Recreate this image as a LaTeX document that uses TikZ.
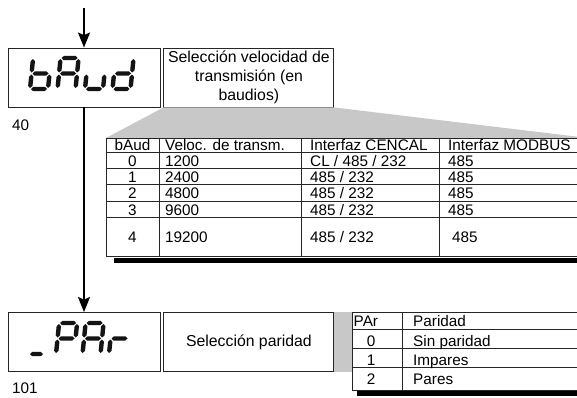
\documentclass[tikz,border=0pt]{standalone}
\usepackage{fontspec}
\setmainfont{Liberation Sans}
\usetikzlibrary{arrows.meta, positioning}
\definecolor{fanc}{RGB}{200,200,200}
\definecolor{segc}{RGB}{20,20,20}
\newcommand{\tabfont}{\fontsize{15.3}{18}\selectfont}
\newcommand{\descfont}{\fontsize{15.8}{19}\selectfont}
% one segment of a 7-segment digit (hexagon)
\newcommand{\hseg}[3]{\fill[segc] (#1,#2) -- ++(2.2,-2.2) -- ++(#3-4.4,0) -- ++(2.2,2.2)
  -- ++(-2.2,2.2) -- ++(4.4-#3,0) -- cycle;}
\newcommand{\vseg}[3]{\fill[segc] (#1,#2) -- ++(2.2,2.2) -- ++(0,#3-4.4) -- ++(-2.2,2.2)
  -- ++(-2.2,-2.2) -- ++(0,4.4-#3) -- cycle;}
\newcommand{\segchar}[3]{%
  \begin{scope}[shift={(#1,#2)}, xslant=0.1]
    \foreach \sg in {#3} {%
      \if a\sg \hseg{1}{-31}{16}\fi
      \if b\sg \vseg{18}{-30}{13.5}\fi
      \if c\sg \vseg{18}{-14.5}{13.5}\fi
      \if d\sg \hseg{1}{0}{16}\fi
      \if e\sg \vseg{0}{-14.5}{13.5}\fi
      \if f\sg \vseg{0}{-30}{13.5}\fi
      \if g\sg \hseg{1}{-15.5}{16}\fi
    }
  \end{scope}}
\tikzset{
  dispbox/.style={draw=black!85, line width=0.9pt, minimum width=152pt,
                  minimum height=59pt, inner sep=0pt},
  descbox/.style={draw=black!85, line width=0.9pt, minimum width=170pt,
                  minimum height=59pt, inner sep=0pt, align=center, font=\descfont},
  cell/.style={inner sep=0pt, anchor=base west, font=\tabfont},
  ccell/.style={inner sep=0pt, anchor=base, font=\tabfont},
  tabline/.style={draw=black!85, line width=0.9pt},
  flow/.style={-{Stealth[length=15pt, width=12pt, inset=2.5pt]}, line width=1.8pt},
}

\begin{document}
\begin{tikzpicture}[x=1pt, y=-1pt]
  \useasboundingbox (0,0) rectangle (577,397);

  % displays and descriptions
  \node[dispbox] (dspbaud) at (84,77.5) {};
  \node[descbox, right=3pt of dspbaud] (selbaud)
    {Selección velocidad de\\transmisión (en\\baudios)};
  \node[dispbox] (dsppar) at (84,342) {};
  \node[descbox, right=3pt of dsppar] (selpar) {Selección paridad};
  \node[cell] (lbl40) at (12,130) {40};
  \node[cell] (lbl101) at (12,393) {101};

  % bAud
  \segchar{30}{89}{f,e,d,c,g}
  \segchar{57.5}{89}{a,b,c,e,f,g}
  \segchar{85}{89}{e,d,c}
  \segchar{112.5}{89}{b,c,d,e,g}
  % _PAr
  \hseg{30}{354}{13}
  \segchar{56}{354}{a,b,f,g,e}
  \segchar{82.5}{354}{a,b,c,e,f,g}
  \segchar{109}{354}{e,g}

  % flow
  \coordinate (entry) at (84,8);
  \draw[flow] (entry) -- (dspbaud.north);
  \draw[flow] (dspbaud.south) -- (dsppar.north);

  % baud rate table
  \fill[fanc] (selbaud.south west) -- (selbaud.south east) -- (580,137) -- (580,138)
    -- (106,138) -- cycle;
  \fill (114,257.5) rectangle (580,262.5);
  \fill[white] (106,138) rectangle (580,256.5);
  \draw[tabline] (106,138) rectangle (580,256.5);
  \foreach \yl in {152.5,168.3,184.7,201.3,217.8}
    \draw[tabline] (106,\yl) -- (580,\yl);
  \foreach \xl in {159,301,439}
    \draw[tabline] (\xl,138) -- (\xl,256.5);
  \node[ccell] (hbd) at (132.5,150.7) {bAud};
  \node[cell] (hvel) at (165,150.7) {Veloc. de transm.};
  \node[cell] (hcen) at (310,150.7) {Interfaz CENCAL};
  \node[cell] (hmod) at (448,150.7) {Interfaz MODBUS};
  \foreach \k/\yb/\vel/\cen/\xm in {0/166/1200/{CL / 485 / 232}/448,
      1/182/2400/{485 / 232}/448, 2/198.5/4800/{485 / 232}/448,
      3/215/9600/{485 / 232}/448, 4/242.5/19200/{485 / 232}/452} {
    \node[ccell] (bd\k) at (132.5,\yb) {\k};
    \node[cell] (vel\k) at (165,\yb) {\vel};
    \node[cell] (cen\k) at (310,\yb) {\cen};
    \node[cell] (mod\k) at (\xm,\yb) {485};
  }

  % parity table
  \fill[fanc] (selpar.north east) rectangle (352,372);
  \fill (357,391) rectangle (580,395.5);
  \draw[tabline] (352,312) rectangle (580,390);
  \foreach \yl in {329.3,348.3,367.3}
    \draw[tabline] (352,\yl) -- (580,\yl);
  \draw[tabline] (402,312) -- (402,390);
  \node[cell] (hpar) at (353.5,326.5) {PAr};
  \node[cell] (hdes) at (413,326.5) {Paridad};
  \foreach \k/\yb/\txt in {0/346.5/Sin paridad, 1/365.5/Impares, 2/384/Pares} {
    \node[ccell] (pk\k) at (371,\yb) {\k};
    \node[cell] (pt\k) at (413,\yb) {\txt};
  }
\end{tikzpicture}
\end{document}
